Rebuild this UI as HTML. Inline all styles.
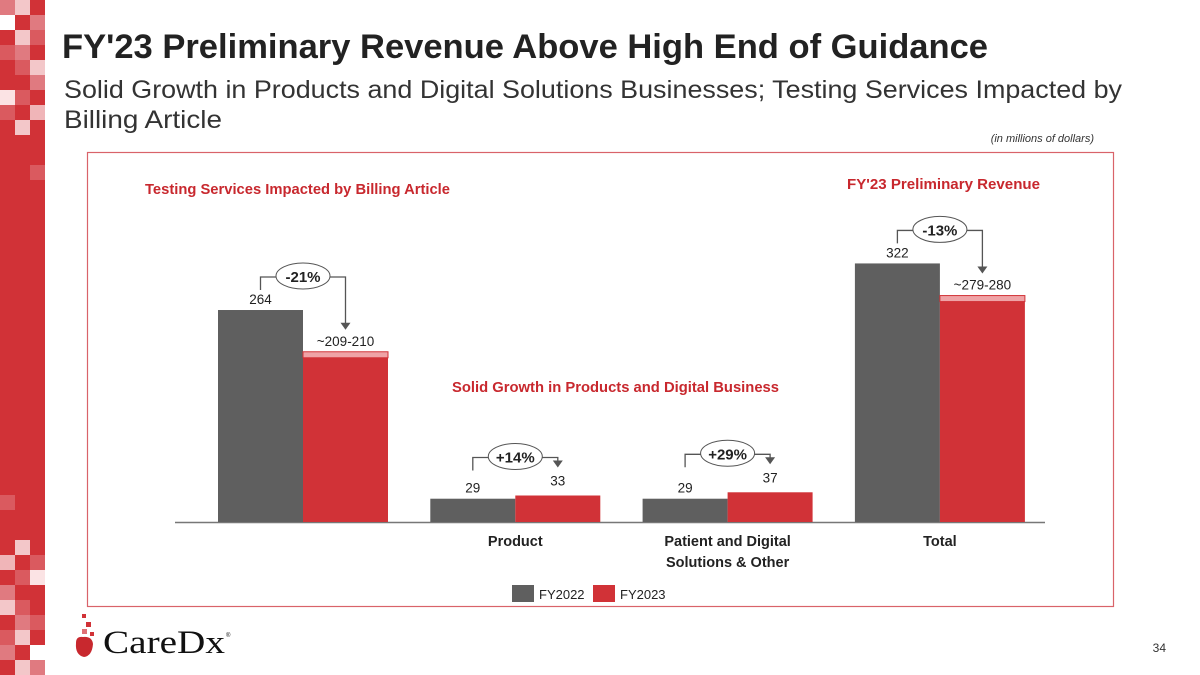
<!DOCTYPE html>
<html><head><meta charset="utf-8"><style>
html,body{margin:0;padding:0;background:#fff;}
svg{display:block;font-family:"Liberation Sans",sans-serif;}
</style></head><body>
<svg id="s" width="1200" height="675" viewBox="0 0 1200 675">
<g id="mosaic"></g>
<text x="62" y="58" font-size="34" font-weight="bold" fill="#222" textLength="926" lengthAdjust="spacingAndGlyphs">FY'23 Preliminary Revenue Above High End of Guidance</text>
<text x="64" y="98" font-size="25" fill="#333" textLength="1058" lengthAdjust="spacingAndGlyphs">Solid Growth in Products and Digital Solutions Businesses; Testing Services Impacted by</text>
<text x="64" y="128" font-size="25" fill="#333" textLength="158" lengthAdjust="spacingAndGlyphs">Billing Article</text>
<text x="1094" y="142" font-size="11" font-style="italic" fill="#333" text-anchor="end">(in millions of dollars)</text>
<rect x="87.5" y="152.5" width="1026" height="454" fill="none" stroke="#d9636a" stroke-width="1.2"/>
<text x="145" y="194" font-size="14.5" font-weight="bold" fill="#c8282e" textLength="305" lengthAdjust="spacingAndGlyphs">Testing Services Impacted by Billing Article</text>
<text x="847" y="189" font-size="14.5" font-weight="bold" fill="#c8282e" textLength="193" lengthAdjust="spacingAndGlyphs">FY'23 Preliminary Revenue</text>
<text x="452" y="392" font-size="14.5" font-weight="bold" fill="#c8282e" textLength="327" lengthAdjust="spacingAndGlyphs">Solid Growth in Products and Digital Business</text>
<g id="chart"></g>
<g>
<rect x="512" y="585" width="22" height="17" fill="#5f5f5f"/>
<text x="539" y="599" font-size="13" fill="#222">FY2022</text>
<rect x="593" y="585" width="22" height="17" fill="#d13237"/>
<text x="620" y="599" font-size="13" fill="#222">FY2023</text>
</g>
<g>
<rect x="82" y="614" width="4" height="4" fill="#d13237"/>
<rect x="86" y="622" width="5" height="5" fill="#d13237"/>
<rect x="82" y="629" width="5" height="5" fill="#e07075"/>
<rect x="90" y="632" width="4" height="4" fill="#d13237"/>
<path d="M76 643 Q76 636 83 637 Q92 636 93 644 Q92 656 84 657 Q75 655 76 643Z" fill="#c8282e"/>
<text x="103" y="653" font-family="'Liberation Serif',serif" font-size="33" fill="#111" textLength="122" lengthAdjust="spacingAndGlyphs">CareDx</text>
<text x="226" y="637" font-size="6" fill="#111">®</text>
</g>
<text x="1166" y="652" font-size="12" fill="#333" text-anchor="end">34</text>
</svg>
<script>
const NS="http://www.w3.org/2000/svg";
const categories=["Testing Services","Product","Patient and Digital|Solutions & Other","Total"];
const fy2022=[264,29,29,322];
const fy2023=[209.5,33,37,279.5];
const labels2022=["264","29","29","322"];
const labels2023=["~209-210","33","37","~279-280"];
const changes=["-21%","+14%","+29%","-13%"];
const showCap=[true,false,false,true];

function mk(tag,attrs,parent){const e=document.createElementNS(NS,tag);for(const k in attrs)e.setAttribute(k,attrs[k]);parent.appendChild(e);return e;}
const chart=document.getElementById('chart');
const baseY=522, scale=0.803;
const y=v=>baseY-v*scale;
const groupX=i=>218+i*212.3;
const bw=85;

mk('line',{x1:175,x2:1045,y1:baseY+0.5,y2:baseY+0.5,stroke:'#777','stroke-width':1.5},chart);

categories.forEach((c,i)=>{
  const gx=groupX(i);
  const tg=y(fy2022[i]), tr=y(fy2023[i]);
  const b1=mk('rect',{x:gx,y:tg,width:bw,height:baseY-tg,fill:'#5f5f5f'},chart);
  
  
  const b2=mk('rect',{x:gx+bw,y:tr,width:bw,height:baseY-tr,fill:'#d13237'},chart);
  
  
  if(showCap[i]){
    const cap=mk('rect',{x:gx+bw,y:tr-2,width:bw,height:6,fill:'#efa3a6',stroke:'#d13237','stroke-width':1},chart);
    
    
  }
  const big=fy2022[i]>100;
  const l1=mk('text',{x:gx+bw/2,y:tg-(big?6:6),'font-size':13.5,fill:'#222','text-anchor':'middle'},chart);
  l1.textContent=labels2022[i];
  
  
  const l2=mk('text',{x:gx+bw*1.5,y:tr-(big?8:10),'font-size':13.5,fill:'#222','text-anchor':'middle'},chart);
  l2.textContent=labels2023[i];
  
  
  const by=Math.min(tg,tr)-(big?33:38);
  const cx=gx+bw, lx=gx+bw/2, rx=gx+bw*1.5;
  const tip=tr-(big?24:28);
  const g=mk('g',{},chart);
  
  
  mk('path',{d:`M${lx} ${by+13} V${by} H${rx} V${tip-6}`,fill:'none',stroke:'#555','stroke-width':1.3},g);
  mk('path',{d:`M${rx-5} ${tip-7} L${rx+5} ${tip-7} L${rx} ${tip} Z`,fill:'#555'},g);
  mk('ellipse',{cx:cx,cy:by-1,rx:27,ry:13,fill:'#fff',stroke:'#555','stroke-width':1},g);
  const t=mk('text',{x:cx,y:by+5,'font-size':15,'font-weight':'bold',fill:'#222','text-anchor':'middle'},g);
  t.textContent=changes[i];
  if(i>0){
    const parts=c.split('|');
    parts.forEach((p,j)=>{
      const ct=mk('text',{x:gx+bw,y:546+j*21,'font-size':14.5,'font-weight':'bold',fill:'#222','text-anchor':'middle'},chart);
      ct.textContent=p;
      
      
    });
  }
});

const mosaic=document.getElementById('mosaic');
const R='#d13237';
mk('rect',{x:0,y:0,width:45,height:675,fill:R},mosaic);
const P='#e07a80',L='#f3c7c9',M='#da5a5f',W='#fff',V='#fbe3e4';
const tiles=[
[0,0,P],[1,0,L],[0,1,W],[2,1,P],[1,2,L],[2,2,M],[0,3,M],[1,3,P],[1,4,M],[2,4,L],[2,5,P],
[0,6,V],[1,6,M],[0,7,M],[2,7,'#f0b5b8'],[1,8,L],[2,11,M],
[0,33,M],[1,36,L],[0,37,'#f0b5b8'],[2,37,M],[1,38,M],[2,38,V],[0,39,P],
[0,40,L],[1,40,M],[1,41,P],[2,41,M],[0,42,M],[1,42,L],[0,43,P],[2,43,W],[1,44,L],[2,44,P]];
tiles.forEach(t=>mk('rect',{x:t[0]*15,y:t[1]*15,width:15,height:15,fill:t[2]},mosaic));
</script>
</body></html>
